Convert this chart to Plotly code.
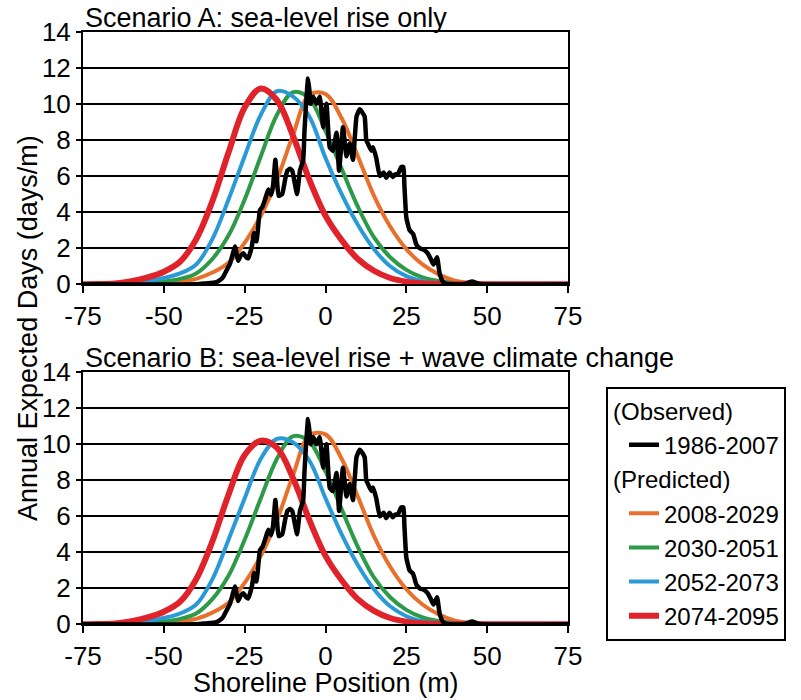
import plotly.graph_objects as go

# ---------------- data ----------------
x_grid = [-75, -70, -65, -60, -55, -50, -45, -40, -35, -30, -25, -20, -15, -10, -5,
          0, 5, 10, 15, 20, 25, 30, 35, 40, 45, 50, 55, 60, 65, 70, 75]

# Scenario A: sea-level rise only
a_2008 = [0, 0, 0, 0.01, 0.03, 0.07, 0.15, 0.3, 0.65, 1.2, 2.3, 3.8, 5.8, 8.3, 10.5,
          10.55, 9.2, 7.1, 4.9, 3.2, 1.95, 1.1, 0.55, 0.2, 0.08, 0.03, 0.01, 0, 0, 0, 0]
a_2030 = [0, 0, 0.01, 0.03, 0.07, 0.15, 0.3, 0.6, 1.4, 2.7, 4.7, 7.1, 9.4, 10.65, 10.3,
          8.5, 6.4, 4.3, 2.6, 1.5, 0.8, 0.38, 0.18, 0.07, 0.02, 0, 0, 0, 0, 0, 0]
a_2052 = [0, 0.01, 0.03, 0.07, 0.17, 0.35, 0.6, 1.1, 2.5, 4.7, 7.1, 9.4, 10.7, 10.4, 9.3,
          7.0, 5.0, 3.3, 1.95, 1.0, 0.45, 0.18, 0.07, 0.02, 0, 0, 0, 0, 0, 0, 0]
a_2074 = [0, 0.01, 0.05, 0.17, 0.38, 0.7, 1.25, 2.5, 4.6, 7.3, 9.8, 10.85, 10.2, 8.2, 5.8,
          3.8, 2.45, 1.4, 0.75, 0.35, 0.15, 0.06, 0.02, 0, 0, 0, 0, 0, 0, 0, 0]

# Scenario B: sea-level rise + wave climate change
b_2008 = [0, 0, 0, 0.01, 0.03, 0.07, 0.15, 0.3, 0.65, 1.2, 2.3, 3.8, 5.8, 8.3, 10.5,
          10.55, 9.2, 7.1, 4.9, 3.2, 1.95, 1.1, 0.55, 0.2, 0.08, 0.03, 0.01, 0, 0, 0, 0]
b_2030 = [0, 0, 0.01, 0.03, 0.07, 0.15, 0.3, 0.6, 1.4, 2.7, 4.7, 7.0, 9.2, 10.45, 10.15,
          8.5, 6.4, 4.3, 2.6, 1.5, 0.8, 0.38, 0.18, 0.07, 0.02, 0, 0, 0, 0, 0, 0]
b_2052 = [0, 0.01, 0.03, 0.07, 0.17, 0.35, 0.6, 1.1, 2.5, 4.7, 7.0, 9.2, 10.3, 10.1, 9.1,
          7.0, 5.0, 3.3, 1.95, 1.0, 0.45, 0.18, 0.07, 0.02, 0, 0, 0, 0, 0, 0, 0]
b_2074 = [0, 0.01, 0.05, 0.17, 0.38, 0.7, 1.25, 2.5, 4.6, 7.2, 9.4, 10.2, 9.8, 8.1, 5.8,
          3.8, 2.45, 1.4, 0.75, 0.35, 0.15, 0.06, 0.02, 0, 0, 0, 0, 0, 0, 0, 0]

# Observed 1986-2007 (same in both panels)
obs_x = [-75, -40, -37, -34, -32.5, -31.6, -30.5, -29.5, -28.5, -28, -27.3, -27, -26.2,
         -25.4, -24.5, -23.9, -22.8, -22.1, -21.6, -21.3, -20.3, -19.5, -18.7, -17.7,
         -16.8, -16.2, -15.5, -15, -14.5, -13.4, -12.5, -11.8, -11, -10.3, -9.5, -8.8,
         -8.3, -7.9, -6.9, -6.5, -6.1, -5.7, -5.4, -5.0, -4.6, -3.8, -2.8, -1.8, -0.7,
         0.3, 1.3, 2.3, 3.4, 4.2, 5.4, 6.5, 7.5, 8.5, 9.6, 10.6, 12.1, 12.6, 13.1, 14.2,
         14.7, 15.7, 16.8, 18, 18.8, 19.8, 20.8, 21.6, 22.4, 23.4, 24.1, 24.4, 25, 26,
         27.1, 28.1, 29.1, 30.6, 31.7, 32.7, 33.4, 34.5, 35.3, 36.3, 37.5, 43, 44, 45.5,
         47, 48, 75]
obs_y = [0, 0, 0.05, 0.1, 0.25, 0.42, 0.8, 1.16, 1.8, 2.1, 1.5, 1.3, 1.6,
         1.72, 1.5, 1.44, 2.08, 2.85, 2.4, 2.4, 4.1, 4.3, 4.7, 5.25,
         4.95, 5.5, 6.9, 5.8, 4.9, 5.0, 5.8, 6.3, 6.4, 6.3, 5.6, 5.0,
         5.7, 6.3, 6.9, 8.5, 9.7, 10.8, 11.4, 10.8, 10.0, 10.4, 10.0, 10.4, 8.7,
         10.0, 7.6, 7.4, 8.4, 6.3, 8.7, 7.1, 7.8, 6.9, 9.3, 9.7, 9.3, 8.0, 7.8, 7.4,
         7.6, 7.0, 6.0, 6.2, 5.9, 6.2, 5.95, 6.1, 6.1, 6.5, 6.5, 5.5, 3.7, 3.0,
         2.8, 2.2, 2.0, 1.9, 1.7, 1.35, 1.1, 1.5, 0.6, 0.15, 0.02, 0, 0.08, 0.15,
         0.05, 0, 0]

periods = ["2008-2029", "2030-2051", "2052-2073", "2074-2095"]
obs_label = "1986-2007"
colors = ["#E8702A", "#2C9A47", "#2A9AD7", "#E0222B"]
widths = [4, 4, 4, 6]

x_tick_vals = [-75, -50, -25, 0, 25, 50, 75]
x_tick_text = ["-75", "-50", "-25", "0", "25", "50", "75"]
y_tick_vals = [0, 2, 4, 6, 8, 10, 12, 14]

titles = ["Scenario A: sea-level rise only",
          "Scenario B: sea-level rise + wave climate change"]
x_title = "Shoreline Position (m)"
y_title = "Annual Expected Days (days/m)"

# ---------------- figure ----------------
W, H = 801, 700
FONT = "Liberation Sans"
fig = go.Figure()

panels = [("x", "y", [a_2008, a_2030, a_2052, a_2074], True),
          ("x2", "y2", [b_2008, b_2030, b_2052, b_2074], False)]

for xa, ya, series, show in panels:
    for i, vals in enumerate(series):
        fig.add_trace(go.Scatter(
            x=x_grid, y=vals, xaxis=xa, yaxis=ya, mode="lines",
            line=dict(color=colors[i], width=widths[i], shape="spline", smoothing=1.0),
            name=periods[i], legendgroup="pred",
            legendgrouptitle_text="(Predicted)" if (show and i == 0) else None,
            showlegend=show, legendrank=10 + i, cliponaxis=False))
    fig.add_trace(go.Scatter(
        x=obs_x, y=obs_y, xaxis=xa, yaxis=ya, mode="lines",
        line=dict(color="black", width=4.5, shape="spline", smoothing=0.4),
        name=obs_label, legendgroup="obs",
        legendgrouptitle_text="(Observed)" if show else None,
        showlegend=show, legendrank=1, cliponaxis=False))

dom_x = [83 / W, 568 / W]
dom_top = [1 - 284.3 / H, 1 - 31.7 / H]
dom_bot = [1 - 624.3 / H, 1 - 372.3 / H]

xcommon = dict(range=[-75, 75], tickvals=x_tick_vals, ticktext=x_tick_text,
               ticks="outside", ticklen=7, tickwidth=2, tickcolor="black",
               showline=True, linecolor="black", linewidth=2, mirror=True,
               showgrid=False, zeroline=False, domain=dom_x, automargin=False,
               tickfont=dict(size=26, color="black", family=FONT))
ycommon = dict(range=[0, 14], tickvals=y_tick_vals,
               ticks="outside", ticklen=5, tickwidth=2, tickcolor="black",
               showline=True, linecolor="black", linewidth=2, mirror=True,
               showgrid=True, gridcolor="black", gridwidth=2, zeroline=False,
               automargin=False,
               tickfont=dict(size=26, color="black", family=FONT))

fig.update_layout(
    width=W, height=H, margin=dict(l=0, r=0, t=0, b=0, autoexpand=False),
    paper_bgcolor="white", plot_bgcolor="white",
    font=dict(family=FONT, size=26, color="black"),
    xaxis=dict(**xcommon, anchor="y"),
    yaxis=dict(**ycommon, domain=dom_top, anchor="x"),
    xaxis2=dict(**xcommon, anchor="y2"),
    yaxis2=dict(**ycommon, domain=dom_bot, anchor="x2"),
    legend=dict(x=606 / W, y=1 - 513.5 / H, xanchor="left", yanchor="middle",
                bordercolor="black", borderwidth=2, bgcolor="white",
                font=dict(size=24, family=FONT, color="black"),
                grouptitlefont=dict(size=24, family=FONT, color="black"),
                traceorder="grouped", tracegroupgap=0, indentation=16),
    showlegend=True,
)

annotations = [
    dict(text=titles[0], x=83 / W, y=1 - 18 / H, xref="paper", yref="paper",
         xanchor="left", yanchor="middle", showarrow=False,
         font=dict(size=27, family=FONT, color="black")),
    dict(text=titles[1], x=83 / W, y=1 - 358 / H, xref="paper", yref="paper",
         xanchor="left", yanchor="middle", showarrow=False,
         font=dict(size=27, family=FONT, color="black")),
    dict(text=x_title, x=325.5 / W, y=1 - 683 / H, xref="paper", yref="paper",
         xanchor="center", yanchor="middle", showarrow=False,
         font=dict(size=27, family=FONT, color="black")),
    dict(text=y_title, x=28 / W, y=1 - 328 / H, xref="paper", yref="paper",
         xanchor="center", yanchor="middle", showarrow=False, textangle=-90,
         font=dict(size=27, family=FONT, color="black")),
]
fig.update_layout(annotations=annotations)

fig.write_html("out.html")
